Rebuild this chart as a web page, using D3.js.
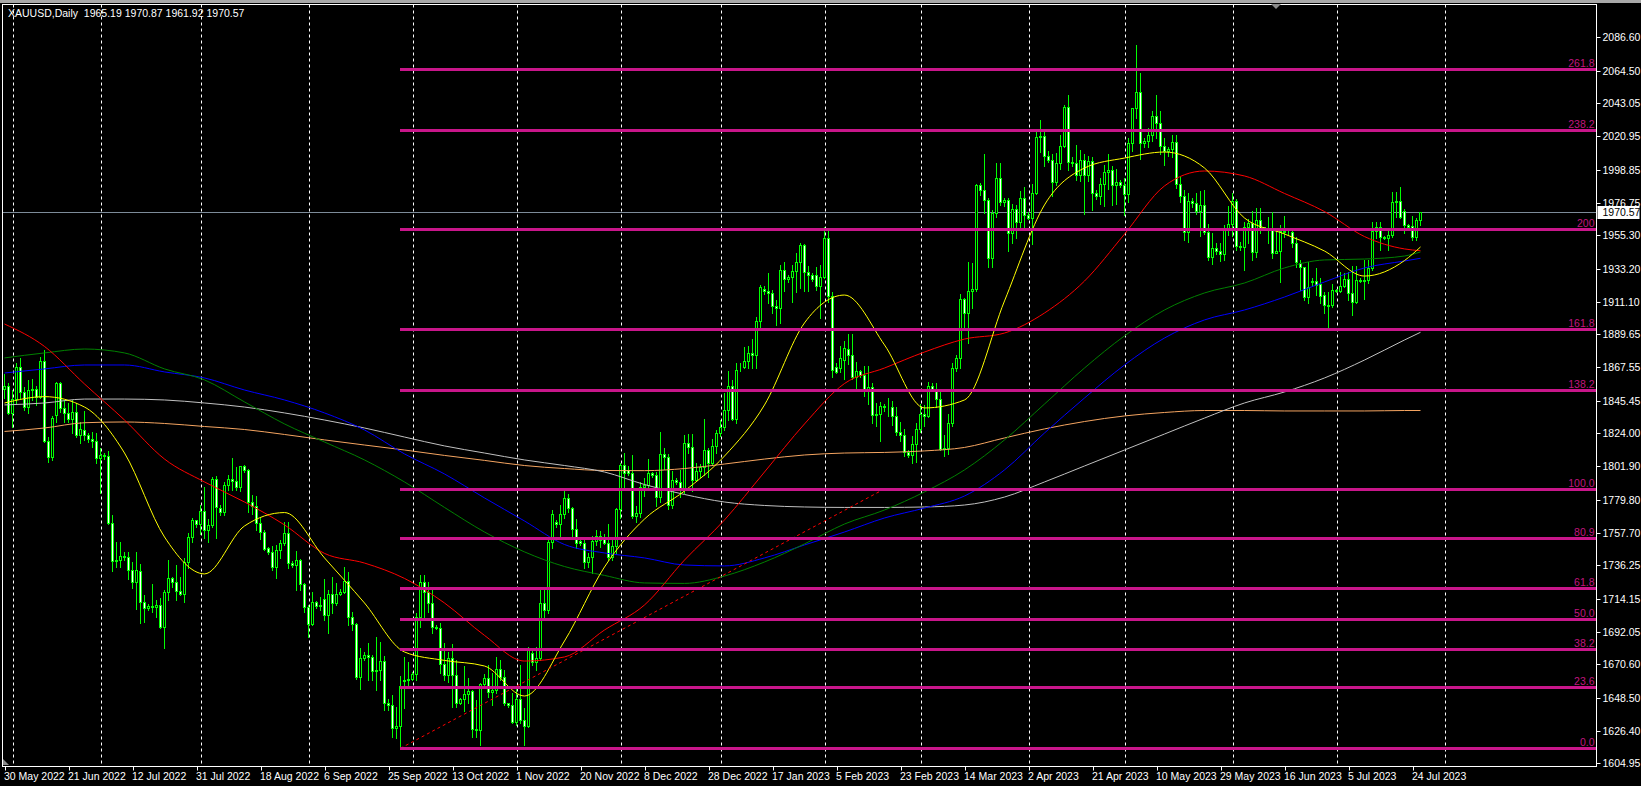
<!DOCTYPE html>
<html><head><meta charset="utf-8">
<script src="https://cdn.jsdelivr.net/npm/d3@7"></script>
<style>
html,body{margin:0;padding:0;background:#000;overflow:hidden;}
svg{display:block;}
text{font-family:"Liberation Sans",Arial,sans-serif;}
</style></head><body>
<svg id="c" width="1641" height="786"></svg>
<script>
const title = "XAUUSD,Daily  1965.19 1970.87 1961.92 1970.57";
const lastPrice = 1970.57;

const opens = [
1853.5,1855.5,1837.1,1846.4,1868.1,1851.0,1841.6,1852.6,1853.3,1847.8,
1871.6,1819.0,1808.4,1836.0,1857.0,1840.4,1837.3,1833.2,1837.8,1822.5,
1826.0,1822.5,1820.0,1818.5,1807.3,1809.5,1808.5,1764.5,1739.0,1740.0,
1742.5,1741.5,1733.5,1725.5,1732.5,1712.2,1708.0,1709.5,1708.5,1710.0,
1695.6,1718.4,1727.7,1725.0,1719.0,1717.5,1738.7,1754.9,1766.4,1764.0,
1772.3,1760.0,1763.3,1793.3,1774.5,1772.0,1789.6,1793.6,1792.0,1788.5,
1802.2,1799.5,1778.5,1775.7,1764.6,1758.6,1747.6,1745.4,1735.4,1746.5,
1751.3,1758.0,1738.1,1736.2,1739.8,1723.7,1708.9,1697.4,1712.2,1709.5,
1713.8,1703.6,1717.1,1711.1,1717.1,1718.8,1725.9,1702.2,1697.4,1662.5,
1674.6,1677.0,1675.5,1666.4,1667.0,1672.8,1644.8,1643.6,1628.2,1630.0,
1659.5,1660.5,1661.0,1664.5,1702.2,1725.5,1718.4,1711.6,1695.6,1695.0,
1670.9,1663.6,1674.6,1663.6,1644.8,1647.5,1650.8,1653.0,1627.6,1627.0,
1657.4,1661.4,1652.5,1653.6,1667.4,1662.1,1644.8,1643.7,1632.6,1647.5,
1633.7,1630.0,1678.0,1672.4,1674.6,1711.6,1706.7,1752.0,1765.3,1763.5,
1770.2,1780.7,1774.1,1760.2,1752.7,1750.9,1738.7,1742.0,1752.7,1755.7,
1755.3,1750.9,1741.6,1748.9,1773.6,1802.8,1799.5,1797.8,1769.0,1770.8,
1788.0,1789.6,1797.3,1796.3,1781.8,1810.1,1807.9,1776.3,1792.9,1791.4,
1786.3,1817.2,1815.0,1792.9,1798.9,1801.5,1812.8,1804.5,1815.5,1823.8,
1828.0,1839.5,1855.3,1833.5,1867.7,1868.1,1872.0,1877.0,1875.5,1898.4,
1919.6,1918.5,1916.8,1908.4,1906.8,1932.2,1926.0,1927.4,1931.6,1937.6,
1948.8,1930.7,1928.9,1928.9,1921.6,1927.8,1953.2,1915.0,1868.1,1867.0,
1872.5,1880.0,1876.0,1861.5,1865.5,1862.5,1853.5,1854.5,1836.0,1836.5,
1842.0,1841.0,1841.5,1835.5,1825.0,1822.5,1811.5,1809.5,1817.0,1826.5,
1836.5,1835.5,1855.5,1853.5,1846.5,1813.5,1814.0,1830.5,1867.5,1874.0,
1913.0,1904.0,1918.0,1919.5,1988.5,1985.0,1978.5,1940.5,1970.0,1993.5,
1977.5,1978.5,1956.5,1973.0,1964.0,1980.0,1969.0,1967.0,1983.5,2020.5,
2021.0,2008.0,2005.0,1990.5,2003.5,2014.5,2040.5,2004.0,2003.0,1995.0,
2005.5,1995.0,2004.5,1983.5,1981.0,1989.5,1997.5,1998.5,1988.5,1990.5,
1988.5,1982.5,2016.5,2039.5,2050.5,2016.5,2018.0,2022.0,2034.5,2030.0,
2014.5,2011.0,2012.5,2017.0,1989.5,1981.5,1957.5,1978.0,1976.5,1971.5,
1975.5,1957.5,1941.0,1946.5,1944.5,1943.0,1959.0,1962.5,1978.0,1948.0,
1947.5,1961.0,1963.2,1944.4,1965.4,1959.9,1959.0,1959.9,1943.7,1945.0,
1958.1,1957.2,1957.5,1949.9,1937.1,1934.0,1914.5,1924.4,1925.0,1922.9,
1915.7,1909.0,1909.0,1918.5,1918.5,1921.6,1926.1,1916.8,1911.2,1925.6,
1925.0,1925.5,1933.3,1958.1,1961.0,1954.3,1953.5,1955.4,1978.0,1978.2,
1971.5,1962.1,1961.4,1954.3,1965.19];

const highs = [
1863.0,1857.0,1852.6,1870.3,1873.6,1854.8,1859.3,1859.6,1855.3,1874.7,
1879.2,1821.7,1835.6,1858.1,1858.1,1846.2,1844.0,1846.0,1843.8,1831.6,
1838.5,1824.0,1825.0,1823.9,1814.1,1811.0,1812.0,1770.0,1752.0,1752.0,
1745.0,1745.0,1738.5,1745.0,1737.0,1716.6,1710.4,1723.9,1713.3,1714.5,
1720.0,1739.8,1728.8,1736.5,1728.8,1741.0,1757.5,1767.9,1766.4,1776.0,
1788.5,1767.0,1795.0,1795.5,1776.0,1791.5,1796.0,1807.5,1801.5,1802.5,
1803.0,1800.0,1783.0,1782.0,1767.5,1759.5,1748.5,1749.0,1750.0,1753.0,
1765.3,1765.3,1739.0,1745.8,1740.5,1724.4,1710.0,1718.8,1712.5,1715.5,
1727.0,1719.9,1728.3,1724.4,1720.8,1735.0,1731.9,1705.6,1697.8,1681.2,
1679.0,1684.5,1676.8,1689.0,1685.2,1676.4,1647.4,1650.3,1642.5,1662.9,
1675.7,1672.0,1665.5,1704.4,1729.9,1729.9,1725.5,1721.1,1697.0,1697.9,
1684.6,1679.1,1684.2,1673.5,1648.3,1669.6,1661.4,1653.6,1647.0,1658.0,
1664.0,1670.2,1664.7,1675.7,1673.5,1666.9,1645.0,1651.4,1655.8,1670.2,
1641.5,1682.4,1681.3,1682.4,1722.2,1722.2,1754.2,1773.0,1766.4,1776.3,
1786.7,1783.8,1775.2,1767.0,1754.0,1753.5,1744.5,1755.5,1759.5,1759.0,
1757.0,1764.0,1754.5,1774.3,1804.5,1810.5,1802.0,1809.5,1775.5,1791.5,
1794.5,1806.5,1798.0,1798.5,1824.5,1813.8,1810.0,1799.0,1794.0,1799.5,
1822.5,1823.5,1823.3,1804.5,1803.5,1833.5,1814.0,1820.0,1826.0,1833.0,
1850.5,1865.2,1859.3,1870.3,1870.3,1881.4,1881.5,1886.5,1901.0,1922.5,
1921.5,1929.9,1919.0,1912.0,1935.5,1937.8,1928.9,1935.5,1943.3,1949.9,
1949.5,1935.0,1930.0,1934.4,1935.5,1960.5,1959.9,1917.9,1870.3,1881.8,
1885.0,1890.0,1890.0,1871.0,1866.0,1868.5,1868.5,1857.0,1844.0,1844.5,
1843.0,1847.0,1845.0,1841.0,1831.5,1827.0,1813.0,1822.0,1831.0,1843.0,
1842.5,1858.0,1857.0,1857.5,1852.0,1823.0,1837.0,1870.5,1876.0,1916.0,
1913.5,1937.5,1937.0,1989.0,1990.0,2009.5,1980.0,1972.0,2003.5,2003.0,
1980.0,1980.0,1976.0,1975.5,1984.5,1987.5,1971.0,1989.5,2025.5,2032.0,
2024.0,2011.0,2009.0,2010.0,2022.0,2041.5,2048.0,2007.0,2015.0,2012.0,
2009.5,2008.0,2007.0,1985.0,1993.5,2002.0,2009.5,2001.5,1999.5,1992.0,
1993.0,2019.5,2040.0,2081.5,2063.0,2020.0,2026.5,2037.5,2048.0,2038.0,
2019.5,2014.0,2022.0,2022.0,1994.0,1985.0,1983.0,1980.0,1983.0,1984.5,
1985.0,1962.5,1957.0,1950.0,1950.0,1962.0,1974.5,1983.5,1979.5,1951.0,
1964.0,1966.0,1971.5,1973.3,1973.3,1961.0,1967.6,1970.9,1959.9,1962.1,
1968.1,1958.5,1958.8,1954.3,1938.9,1934.4,1937.8,1926.7,1933.3,1926.7,
1917.9,1917.9,1922.9,1919.7,1931.1,1930.0,1931.1,1934.9,1934.9,1926.6,
1938.9,1938.9,1964.3,1964.3,1964.3,1955.1,1959.9,1984.2,1984.2,1987.5,
1972.5,1962.5,1968.1,1966.5,1970.87];

const lows = [
1847.0,1836.6,1828.3,1843.8,1847.1,1839.3,1837.1,1846.0,1842.7,1847.1,
1818.4,1805.1,1806.1,1831.6,1838.2,1831.6,1831.6,1823.9,1821.7,1817.3,
1819.5,1818.4,1815.0,1804.0,1784.0,1806.5,1763.5,1732.5,1735.0,1735.5,
1740.0,1727.5,1721.5,1707.5,1697.8,1698.9,1706.5,1705.6,1702.3,1695.0,
1681.2,1713.3,1722.2,1713.3,1716.6,1712.2,1734.3,1752.0,1762.0,1757.0,
1754.5,1751.5,1762.0,1754.5,1770.0,1770.0,1786.5,1786.5,1786.0,1785.5,
1798.0,1772.0,1770.5,1759.5,1753.5,1746.5,1744.0,1733.5,1728.0,1741.0,
1749.8,1734.5,1735.5,1720.0,1719.9,1705.6,1688.5,1696.7,1707.8,1706.7,
1700.0,1691.2,1704.5,1710.0,1716.6,1717.7,1696.7,1693.4,1660.7,1654.0,
1673.5,1660.0,1660.2,1653.6,1660.2,1640.4,1640.4,1622.7,1621.6,1614.9,
1641.5,1656.0,1660.0,1660.2,1695.6,1701.2,1705.6,1691.2,1694.0,1664.7,
1660.3,1659.2,1642.6,1642.6,1644.0,1639.9,1644.8,1622.7,1622.7,1617.2,
1657.0,1649.2,1643.7,1651.4,1660.3,1643.7,1642.5,1631.5,1630.4,1631.5,
1617.2,1629.3,1670.2,1666.9,1673.5,1702.3,1704.5,1747.6,1762.0,1754.2,
1767.5,1772.0,1755.3,1747.5,1749.5,1734.5,1735.0,1731.5,1750.0,1748.5,
1750.5,1739.5,1739.5,1743.5,1768.0,1786.5,1796.5,1767.5,1765.0,1768.5,
1782.5,1787.5,1795.0,1775.5,1778.0,1800.0,1773.5,1774.0,1790.0,1781.5,
1784.0,1810.5,1785.5,1792.0,1795.0,1796.5,1795.0,1803.0,1811.0,1822.0,
1826.0,1833.0,1832.7,1830.5,1865.0,1867.0,1867.0,1867.0,1867.5,1893.5,
1916.5,1910.2,1903.5,1896.0,1896.8,1918.0,1924.5,1911.2,1917.9,1920.1,
1918.5,1918.5,1925.0,1919.0,1900.2,1926.7,1911.2,1861.5,1864.1,1864.8,
1860.0,1870.0,1860.0,1853.0,1861.0,1848.5,1843.5,1831.0,1829.0,1818.5,
1839.0,1835.5,1829.5,1822.5,1818.5,1808.5,1808.0,1804.5,1805.0,1825.0,
1829.0,1835.0,1852.0,1841.0,1812.5,1809.0,1810.0,1829.0,1865.0,1867.0,
1894.0,1884.0,1907.0,1918.5,1982.0,1970.0,1934.5,1934.0,1967.5,1975.5,
1975.0,1944.5,1950.0,1953.5,1958.5,1959.5,1966.0,1949.5,1982.5,2010.5,
2001.0,2004.0,1981.0,1988.5,1999.0,2013.5,1998.5,2001.0,1992.0,1991.5,
1969.5,1991.5,1972.0,1979.0,1976.0,1974.5,1986.0,1975.5,1976.0,1987.0,
1969.0,1977.5,2011.0,2033.0,2006.0,2014.0,2013.5,2018.0,2020.0,2009.5,
2002.0,2008.0,2007.5,1986.5,1977.5,1952.0,1951.0,1974.0,1969.5,1954.5,
1956.0,1939.0,1936.5,1943.0,1938.5,1939.0,1955.5,1955.0,1945.5,1945.5,
1932.5,1950.0,1938.6,1941.1,1956.8,1958.8,1949.9,1940.0,1943.3,1924.5,
1954.4,1955.3,1947.7,1934.5,1919.0,1912.3,1910.1,1922.3,1915.7,1910.1,
1903.5,1892.4,1907.9,1917.4,1917.9,1921.2,1912.3,1902.4,1910.6,1924.0,
1912.8,1923.4,1932.2,1953.2,1945.5,1952.6,1945.5,1954.3,1967.6,1966.5,
1956.6,1960.3,1952.4,1952.2,1961.92];

const closes = [
1855.5,1837.1,1846.4,1868.1,1851.0,1841.6,1852.6,1853.3,1847.8,1871.6,
1819.0,1808.4,1834.3,1857.0,1840.4,1837.3,1833.2,1837.8,1822.5,1827.0,
1822.5,1820.0,1818.5,1807.3,1809.5,1808.5,1764.5,1739.0,1740.0,1742.5,
1741.5,1733.5,1725.5,1733.0,1712.2,1708.0,1709.5,1708.5,1710.0,1695.6,
1718.4,1727.7,1725.0,1719.0,1717.5,1738.7,1754.9,1766.4,1764.0,1772.3,
1760.0,1763.3,1793.3,1775.2,1771.5,1789.6,1793.6,1792.0,1788.5,1802.2,
1799.5,1778.5,1775.7,1764.6,1758.6,1747.3,1745.4,1735.4,1746.5,1751.3,
1758.0,1738.1,1736.2,1739.8,1723.7,1708.9,1697.4,1712.2,1709.5,1710.0,
1703.6,1717.1,1711.1,1717.1,1718.8,1725.9,1702.2,1697.4,1662.5,1674.6,
1677.0,1675.5,1666.4,1667.0,1672.8,1644.8,1643.6,1628.2,1630.0,1656.3,
1660.5,1661.0,1664.5,1702.2,1725.5,1718.4,1711.6,1695.6,1695.0,1670.9,
1663.6,1674.6,1663.6,1644.8,1647.5,1650.8,1653.0,1627.6,1627.0,1657.4,
1661.4,1652.5,1653.6,1667.4,1662.1,1644.8,1643.7,1632.6,1647.5,1633.7,
1630.0,1681.3,1672.4,1674.6,1711.6,1706.7,1752.0,1770.4,1763.5,1770.2,
1780.7,1774.1,1760.2,1750.9,1750.9,1738.7,1742.0,1752.7,1755.7,1753.1,
1750.9,1741.6,1748.9,1773.6,1802.8,1797.3,1797.8,1769.0,1770.8,1788.0,
1789.6,1797.3,1796.3,1781.8,1810.1,1807.9,1776.3,1792.9,1791.4,1786.3,
1817.2,1815.0,1792.9,1798.9,1801.5,1812.8,1804.5,1815.5,1823.8,1828.0,
1839.5,1855.3,1833.5,1865.9,1868.1,1872.0,1877.0,1875.5,1898.4,1921.2,
1918.5,1916.8,1908.4,1906.8,1932.2,1926.0,1927.4,1931.6,1937.6,1948.8,
1930.7,1929.0,1926.0,1921.6,1927.8,1953.2,1915.0,1865.9,1864.5,1873.6,
1880.3,1876.0,1861.5,1865.5,1862.5,1853.5,1854.5,1836.0,1836.5,1842.0,
1841.0,1841.5,1835.5,1825.0,1822.5,1811.5,1809.5,1817.0,1826.5,1836.5,
1835.5,1855.5,1853.5,1846.5,1813.5,1814.0,1830.5,1867.5,1874.0,1913.0,
1904.0,1918.0,1919.5,1988.5,1985.0,1978.5,1940.5,1970.0,1993.5,1977.5,
1978.5,1956.5,1973.0,1964.0,1980.0,1969.0,1967.0,1983.5,2020.5,2021.0,
2008.0,2005.0,1990.5,2003.5,2014.5,2040.5,2004.0,2003.0,1995.0,2005.5,
1995.0,2004.5,1983.5,1981.0,1989.5,1997.5,1998.5,1988.5,1990.5,1988.5,
1982.5,2016.5,2039.5,2050.5,2016.5,2018.0,2022.0,2034.5,2030.0,2014.5,
2011.0,2012.5,2017.0,1989.5,1981.5,1957.5,1978.0,1976.5,1971.5,1975.5,
1957.5,1941.0,1946.5,1944.5,1943.0,1959.0,1962.5,1978.0,1948.0,1947.5,
1961.0,1963.2,1944.4,1965.4,1959.9,1960.5,1959.9,1943.7,1945.0,1958.1,
1957.2,1957.5,1949.9,1937.8,1934.0,1914.5,1921.2,1925.0,1922.3,1915.0,
1909.0,1908.4,1919.0,1919.0,1921.6,1926.1,1916.8,1911.2,1925.6,1925.0,
1925.5,1933.3,1958.1,1961.0,1954.3,1953.5,1955.4,1977.1,1977.2,1967.6,
1962.1,1961.0,1954.3,1965.4,1970.57];

// moving averages, read at every 10th bar (and the last bar)
const maBars = [0,10,20,30,40,50,60,70,80,90,100,110,120,130,140,150,160,170,180,190,200,210,220,230,240,250,260,270,280,290,300,310,320,330,340,350,354];
const maYellow = [1844.0,1848.2,1841.3,1810.8,1755.1,1730.6,1762.4,1771.3,1741.2,1711.3,1678.8,1673.2,1669.5,1649.6,1686.1,1735.2,1767.0,1785.6,1808.8,1842.7,1897.1,1915.6,1882.5,1840.7,1846.0,1911.7,1975.4,1999.9,2006.5,2010.5,1999.9,1966.7,1956.1,1944.8,1928.2,1938.5,1947.5];
const maRed = [1896.4,1881.5,1856.6,1832.7,1806.8,1791.6,1778.3,1763.1,1744.2,1737.8,1727.6,1711.3,1689.8,1672.8,1675.5,1693.4,1710.0,1739.8,1766.4,1798.2,1830.1,1856.9,1867.2,1877.8,1886.4,1890.4,1903.7,1924.9,1956.0,1988.0,1997.9,1994.6,1983.0,1971.0,1954.4,1946.2,1945.0];
const maGreen = [1873.9,1877.2,1879.8,1877.2,1866.6,1859.3,1844.7,1830.1,1818.1,1806.2,1791.6,1774.7,1758.4,1745.2,1735.5,1729.6,1724.6,1724.3,1729.2,1738.5,1750.5,1763.7,1773.0,1785.0,1799.6,1819.5,1843.3,1867.2,1888.5,1905.7,1917.0,1923.6,1933.6,1938.9,1939.5,1941.5,1944.2];
const maBlue = [1863.9,1866.6,1869.2,1869.2,1864.6,1860.6,1852.6,1846.0,1837.4,1826.1,1810.2,1796.9,1781.0,1765.7,1750.1,1744.5,1741.2,1736.5,1735.9,1741.2,1749.8,1758.4,1767.7,1774.3,1782.3,1799.6,1824.1,1847.3,1869.2,1887.1,1899.1,1905.7,1914.3,1924.3,1933.6,1938.2,1940.0];
const maSilver = [1842.7,1844.0,1846.6,1846.6,1846.0,1844.0,1841.3,1837.4,1832.7,1827.4,1821.4,1815.5,1810.8,1806.2,1802.5,1798.2,1789.9,1783.3,1778.3,1776.0,1775.0,1774.7,1774.7,1775.0,1776.3,1781.6,1791.6,1802.2,1812.8,1823.4,1834.0,1844.0,1851.3,1860.6,1872.5,1885.8,1890.9];
const maOrange = [1825.1,1827.4,1830.9,1831.4,1830.4,1828.4,1826.4,1823.1,1819.5,1816.1,1812.8,1809.2,1805.9,1802.5,1800.5,1799.2,1799.1,1800.5,1803.5,1806.8,1809.5,1810.8,1811.2,1812.2,1814.5,1820.8,1826.8,1831.7,1835.4,1837.7,1839.0,1839.0,1838.7,1838.7,1838.7,1839.0,1839.0];

// Fibonacci
const fibLow = 1614.9, fibHigh = 1787.0, fibStartBar = 99, fibEndBar = 220;
const fibRatios = [0, 23.6, 38.2, 50.0, 61.8, 80.9, 100.0, 138.2, 161.8, 200, 238.2, 261.8];
const fibLabels = ["0.0","23.6","38.2","50.0","61.8","80.9","100.0","138.2","161.8","200","238.2","261.8"];

// axes
const priceTicks = ["2086.60","2064.50","2043.05","2020.95","1998.85","1976.75","1955.30","1933.20","1911.10","1889.65","1867.55","1845.45","1824.00","1801.90","1779.80","1757.70","1736.25","1714.15","1692.05","1670.60","1648.50","1626.40","1604.95"];
const dateLabels = ["30 May 2022","21 Jun 2022","12 Jul 2022","31 Jul 2022","18 Aug 2022","6 Sep 2022","25 Sep 2022","13 Oct 2022","1 Nov 2022","20 Nov 2022","8 Dec 2022","28 Dec 2022","17 Jan 2023","5 Feb 2023","23 Feb 2023","14 Mar 2023","2 Apr 2023","21 Apr 2023","10 May 2023","29 May 2023","16 Jun 2023","5 Jul 2023","24 Jul 2023"];
const dateLabelBars = [0,16,32,48,64,80,96,112,128,144,160,176,192,208,224,240,256,272,288,304,320,336,352];
const gridBars = [2,24,49,76,102,128,154,179,205,229,256,280,307,333,360];

// ---------- drawing ----------
const svg = d3.select("#c");
const PL = 2.5, PT = 4.5, PR = 1596.5, PB = 766.5;
const x = d3.scaleLinear().domain([0, 1]).range([4.5, 8.5]);
const y = d3.scaleLinear().domain([1604.95, 2086.60]).range([763.3, 37.3]);
const snap = v => Math.round(v) + 0.5;

svg.append("rect").attr("x",0).attr("y",0).attr("width",1641).attr("height",786).attr("fill","#000");
svg.append("rect").attr("x",0).attr("y",0).attr("width",1641).attr("height",3).attr("fill","#a8a8a8");

svg.append("defs").append("clipPath").attr("id","clip").append("rect")
  .attr("x",PL).attr("y",PT).attr("width",PR-PL).attr("height",PB-PT);
const plotG = svg.append("g").attr("clip-path","url(#clip)");

// vertical dashed grid
plotG.selectAll("line.grid").data(gridBars).join("line")
  .attr("x1", d => snap(x(d))).attr("x2", d => snap(x(d)))
  .attr("y1", PT).attr("y2", PB)
  .attr("stroke","#ffffff").attr("stroke-width",1).attr("stroke-dasharray","3,3");

// current price line
plotG.append("line").attr("x1",PL).attr("x2",PR).attr("y1",snap(y(lastPrice))).attr("y2",snap(y(lastPrice)))
  .attr("stroke","#7d8b99").attr("stroke-width",1);

// candles
const idx = d3.range(closes.length);
const cg = plotG.append("g");
cg.selectAll("line.wick").data(idx).join("line")
  .attr("x1", i => x(i)).attr("x2", i => x(i))
  .attr("y1", i => Math.round(y(highs[i]))).attr("y2", i => Math.round(y(lows[i])) + 1)
  .attr("stroke","#00ff00").attr("stroke-width",1);
cg.selectAll("rect.body").data(idx).join("rect")
  .attr("x", i => x(i) - 1)
  .attr("y", i => snap(y(Math.max(opens[i], closes[i]))))
  .attr("width", 2)
  .attr("height", i => Math.max(0, Math.round(y(Math.min(opens[i], closes[i]))) - Math.round(y(Math.max(opens[i], closes[i])))))
  .attr("fill", i => closes[i] >= opens[i] ? "#000000" : "#ffffff")
  .attr("stroke","#00ff00").attr("stroke-width",1);

// moving averages
const maSeries = [
  {v: maOrange, c: "#f4a460"},
  {v: maSilver, c: "#c0c0c0"},
  {v: maBlue,   c: "#0000ff"},
  {v: maGreen,  c: "#008000"},
  {v: maRed,    c: "#ff0000"},
  {v: maYellow, c: "#ffff00"}
];
const maLine = d3.line().x(d => x(d[0])).y(d => y(d[1])).curve(d3.curveMonotoneX);
maSeries.forEach(s => {
  plotG.append("path").datum(maBars.map((b, k) => [b, s.v[k]]))
    .attr("d", maLine).attr("fill","none").attr("stroke", s.c).attr("stroke-width",1);
});

// fib trend line (dashed)
plotG.append("line")
  .attr("x1", x(fibStartBar)).attr("y1", y(fibLow))
  .attr("x2", x(fibEndBar)).attr("y2", y(fibHigh))
  .attr("stroke","#ff0000").attr("stroke-width",1).attr("stroke-dasharray","3,3");

// fib levels
const fibPrice = r => fibLow + (fibHigh - fibLow) * r / 100;
plotG.selectAll("line.fib").data(fibRatios).join("line")
  .attr("x1", x(fibStartBar) - 0.5).attr("x2", PR)
  .attr("y1", r => Math.round(y(fibPrice(r))) + 0.5).attr("y2", r => Math.round(y(fibPrice(r))) + 0.5)
  .attr("stroke","#c8168a").attr("stroke-width",3);
plotG.selectAll("text.fib").data(fibRatios).join("text")
  .attr("x", PR - 2).attr("y", r => Math.round(y(fibPrice(r))) - 2)
  .attr("text-anchor","end").attr("font-size","10.5px").attr("fill","#c0157f")
  .text((r, k) => fibLabels[k]);

// frame
svg.append("rect").attr("x",PL).attr("y",PT).attr("width",PR-PL).attr("height",PB-PT)
  .attr("fill","none").attr("stroke","#ffffff").attr("stroke-width",1);

// price axis
const pa = svg.append("g");
pa.selectAll("line").data(priceTicks).join("line")
  .attr("x1", PR).attr("x2", PR + 4)
  .attr("y1", d => snap(y(+d))).attr("y2", d => snap(y(+d)))
  .attr("stroke","#ffffff");
pa.selectAll("text").data(priceTicks).join("text")
  .attr("x", PR + 6).attr("y", d => y(+d) + 4)
  .attr("font-size","10.5px").attr("fill","#ffffff").text(d => d);

// last price tag
svg.append("rect").attr("x", PR + 1).attr("y", Math.round(y(lastPrice)) - 6).attr("width", 42).attr("height", 13).attr("fill","#ffffff");
svg.append("text").attr("x", PR + 6).attr("y", y(lastPrice) + 4).attr("font-size","10.5px").attr("fill","#000000").text(lastPrice.toFixed(2));

// date axis
const da = svg.append("g");
da.selectAll("line").data(dateLabelBars).join("line")
  .attr("x1", b => snap(x(b))).attr("x2", b => snap(x(b)))
  .attr("y1", PB).attr("y2", PB + 4).attr("stroke","#ffffff");
da.selectAll("text").data(dateLabelBars).join("text")
  .attr("x", b => x(b) - 0.5).attr("y", 780)
  .attr("font-size","10.5px").attr("fill","#ffffff")
  .text((b, k) => dateLabels[k]);

// title
svg.append("text").attr("x", 8).attr("y", 17).attr("font-size","10.5px").attr("fill","#ffffff")
  .style("white-space","pre").text(title);

// small markers
svg.append("path").attr("d","M1271,4 L1281,4 L1276,9 Z").attr("fill","#8a8a8a");
svg.append("path").attr("d","M3,765 L3,759 L9,765 Z").attr("fill","#8a8a8a");
</script>
</body></html>
